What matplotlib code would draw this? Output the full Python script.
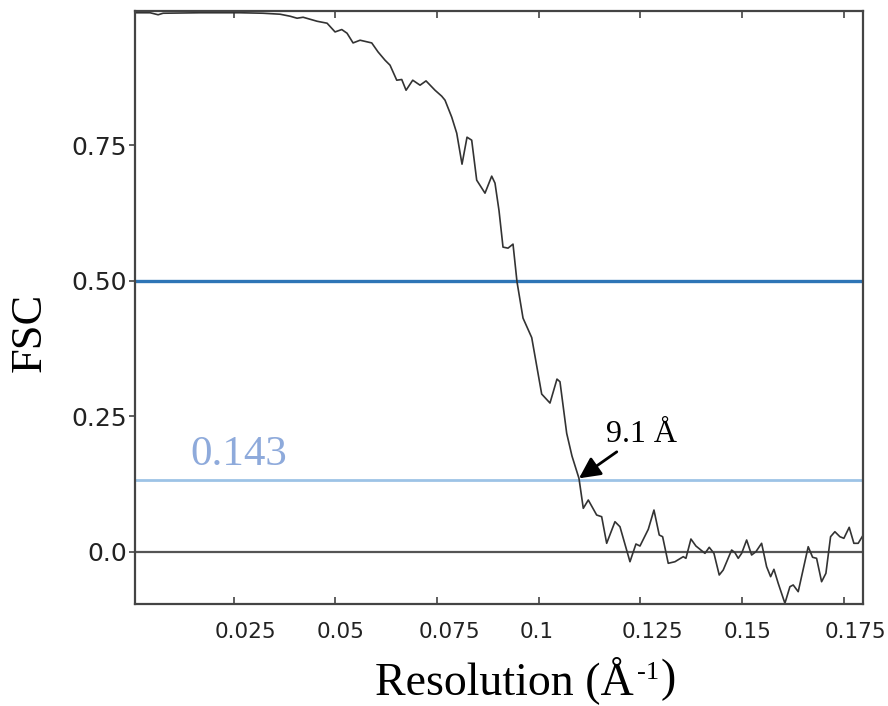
import matplotlib
matplotlib.use("Agg")
import matplotlib.pyplot as plt
import matplotlib.transforms as mtransforms
import numpy as np

# FSC curve
res = [0.00074, 0.00442, 0.00639, 0.00762, 0.01672, 0.02655, 0.03220, 0.03638,
       0.03884, 0.04056, 0.04204, 0.04548, 0.04794, 0.04990, 0.05155, 0.05285,
       0.05433, 0.05605, 0.05892, 0.06047, 0.06219, 0.06342, 0.06507, 0.06630,
       0.06736, 0.06900, 0.07080, 0.07227, 0.07448, 0.07613, 0.07694, 0.07859,
       0.07982, 0.08112, 0.08235, 0.08350, 0.08473, 0.08677, 0.08842, 0.08923,
       0.09022, 0.09120, 0.09243, 0.09366, 0.09464, 0.09612, 0.09826, 0.10071,
       0.10275, 0.10447, 0.10521, 0.10686, 0.10816, 0.10988, 0.11094, 0.11217,
       0.11423, 0.11546, 0.11669, 0.11873, 0.11996, 0.12242, 0.12389, 0.12488,
       0.12692, 0.12832, 0.12962, 0.13045, 0.13183, 0.13348, 0.13552, 0.13618,
       0.13741, 0.13864, 0.14086, 0.14191, 0.14307, 0.14437, 0.14535, 0.14742,
       0.14823, 0.14904, 0.14988, 0.15111, 0.15233, 0.15339, 0.15479, 0.15602,
       0.15701, 0.15782, 0.15887, 0.16052, 0.16175, 0.16256, 0.16379, 0.16625,
       0.16733, 0.16831, 0.16954, 0.17060, 0.17175, 0.17281, 0.17404, 0.17502,
       0.17633, 0.17748, 0.17854, 0.17977]
fsc = [0.9948, 0.9948, 0.9911, 0.9939, 0.9948, 0.9948, 0.9939, 0.9921, 0.9884,
       0.9847, 0.9865, 0.9791, 0.9755, 0.9594, 0.9638, 0.9570, 0.9391,
       0.9441, 0.9391, 0.9225, 0.9072, 0.8980, 0.8703, 0.8716, 0.8518,
       0.8703, 0.8611, 0.8690, 0.8518, 0.8408, 0.8334, 0.8021, 0.7725,
       0.7153, 0.7651, 0.7596, 0.6858, 0.6618, 0.6932, 0.6803, 0.6295,
       0.5622, 0.5603, 0.5677, 0.4982, 0.4312, 0.3952, 0.2910, 0.2744,
       0.3186, 0.3137, 0.2185, 0.1766, 0.1354, 0.0801, 0.0954, 0.0677,
       0.0646, 0.0155, 0.0554, 0.0461, -0.0185, 0.0142, 0.0105, 0.0413,
       0.0769, 0.0308, 0.0277, -0.0214, -0.0185, -0.0092, -0.0122, 0.0234,
       0.0105, -0.0030, 0.0081, -0.0030, -0.0430, -0.0338, 0.0031, -0.0018,
       -0.0122, -0.0030, 0.0216, -0.0061, 0.0, 0.0155, -0.0277, -0.0461,
       -0.0325, -0.0583, -0.0952, -0.0646, -0.0614, -0.0738, 0.0092, -0.0103,
       -0.0122, -0.0554, -0.0399, 0.0277, 0.0369, 0.0277, 0.0247, 0.0450,
       0.0155, 0.0155, 0.0308]

xticks = [0.025, 0.05, 0.075, 0.1, 0.125, 0.15, 0.175]
xticklabels = ['0.025', '0.05', '0.075', '0.1', '0.125', '0.15', '0.175']
yticks = [0.0, 0.25, 0.5, 0.75]
yticklabels = ['0.0', '0.25', '0.50', '0.75']

half_bit = 0.5
gold_line = 0.132      # drawn position of the 0.143 line in the picture
gold_text = '0.143'
cross_x, cross_y = 0.10988, 0.1354

fig = plt.figure(figsize=(8.88, 7.06), dpi=100)
ax = fig.add_axes([0.152, 0.1445, 0.8202, 0.8399])

ax.axhline(0.0, color='#555555', lw=1.6, zorder=1)
ax.axhline(half_bit, color='#2e75b6', lw=2.4, zorder=1)
ax.axhline(gold_line, color='#9dc3e6', lw=2.0, zorder=1)
ax.plot(res, fsc, color='#333333', lw=1.2, zorder=2)

ax.set_xlim(0.0007, 0.1798)
ax.set_ylim(-0.0965, 0.998)

ax.set_xticks(xticks)
ax.set_xticklabels(xticklabels, fontsize=15.5, color='#222222')
ax.set_yticks(yticks)
ax.set_yticklabels(yticklabels, fontsize=18, color='#222222')
ax.tick_params(axis='x', direction='in', length=5, width=1.2, color='#444444',
               pad=13, top=True)
ax.tick_params(axis='y', direction='out', length=4, width=1.2, color='#444444', pad=2)
# labels in the picture start a bit left of their tick
off = mtransforms.ScaledTranslation(-0.19, 0, fig.dpi_scale_trans)
for lab in ax.get_xticklabels():
    lab.set_horizontalalignment('left')
    lab.set_transform(lab.get_transform() + off)

for s in ax.spines.values():
    s.set_color('#444444')
    s.set_linewidth(1.6)

ax.text(0.01426, 0.16, gold_text, color='#8eaadb', fontsize=31,
        family='Liberation Serif', ha='left', va='baseline')
ax.annotate('9.1 Å', xy=(cross_x, cross_y), xytext=(0.1165, 0.2024),
            fontsize=23, family='Liberation Serif', ha='left', va='baseline',
            arrowprops=dict(arrowstyle='-|>', color='black', lw=2,
                            mutation_scale=32, shrinkA=0, shrinkB=0),
            annotation_clip=False)

# x label: main part plus a small raised "-1"
lab = fig.text(375 / 888, 1 - 680 / 706, 'Resolution (Å',
               fontsize=33, family='Liberation Serif', ha='left', va='center')
fig.canvas.draw()
bb = lab.get_window_extent()
sup = fig.text(bb.x1 / fig.bbox.width + 0.004, 1 - 673 / 706, '-1',
               fontsize=19, family='Liberation Serif', ha='left', va='center')
bb2 = sup.get_window_extent(renderer=fig.canvas.get_renderer())
fig.text(bb2.x1 / fig.bbox.width + 0.001, 1 - 680 / 706, ')',
         fontsize=33, family='Liberation Serif', ha='left', va='center')
fig.text(30 / 888, 1 - 332 / 706, 'FSC', fontsize=32, family='Liberation Serif',
         rotation=90, ha='center', va='center')

fig.savefig('out.png', dpi=100)
